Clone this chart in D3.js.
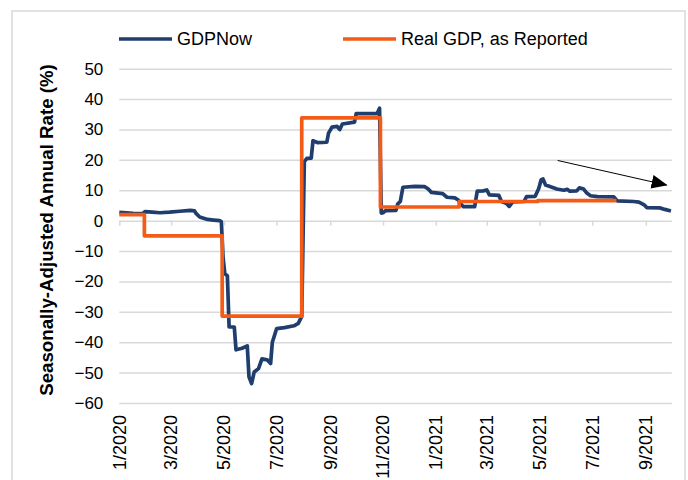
<!doctype html>
<html lang="en">
<head>
  <meta charset="utf-8">
  <style>
    body {
      margin: 0;
      background-color: white;
    }
    svg {
      display: block;
      background-color: white;
      font-family: "Liberation Sans", Arial, sans-serif;
    }
    .frame {
      fill: none;
      stroke: #d9d9d9;
      stroke-width: 1.5px;
    }
    .grid line {
      stroke: #d9d9d9;
      stroke-width: 1.5px;
    }
    .grid text {
      font-size: 17px;
      fill: #000;
    }
    .xlabel {
      font-size: 18px;
      fill: #000;
    }
    .series {
      fill: none;
      stroke-width: 3.7px;
      stroke-linejoin: round;
    }
  </style>
</head>
<body>
<script src="https://d3js.org/d3.v7.min.js"></script>
<script>
var width = 688,
height = 480;

// GDPNow estimates (date, %)
var nowDates = ["2020-01-01","2020-01-17","2020-01-28","2020-01-31","2020-02-08","2020-02-17","2020-02-28",
  "2020-03-11","2020-03-23","2020-03-28","2020-03-30","2020-04-03","2020-04-12","2020-04-19","2020-04-26","2020-04-28",
  "2020-04-30","2020-05-02","2020-05-05","2020-05-07","2020-05-13","2020-05-15","2020-05-22","2020-05-28","2020-05-30",
  "2020-06-02","2020-06-05","2020-06-10","2020-06-14","2020-06-20","2020-06-24","2020-06-26","2020-07-01","2020-07-10",
  "2020-07-21","2020-07-26","2020-07-30","2020-08-02","2020-08-05","2020-08-10","2020-08-12","2020-08-17","2020-08-28",
  "2020-08-30","2020-09-03","2020-09-09","2020-09-12","2020-09-15","2020-09-29","2020-10-01","2020-10-25","2020-10-28",
  "2020-10-30","2020-11-01","2020-11-04","2020-11-16","2020-11-18","2020-11-21","2020-11-24","2020-12-08","2020-12-19",
  "2020-12-23","2020-12-27","2021-01-09","2021-01-14","2021-01-23","2021-01-27","2021-01-30","2021-02-02","2021-02-15",
  "2021-02-18","2021-02-25","2021-03-01","2021-03-04","2021-03-15","2021-03-18","2021-03-24","2021-03-27","2021-03-31",
  "2021-04-13","2021-04-16","2021-04-26","2021-04-30","2021-05-03","2021-05-05","2021-05-08","2021-05-13","2021-05-21",
  "2021-05-29","2021-06-02","2021-06-05","2021-06-13","2021-06-16","2021-06-21","2021-06-25","2021-06-29","2021-07-07",
  "2021-07-26","2021-07-30","2021-08-18","2021-08-24","2021-08-30","2021-09-02","2021-09-17","2021-09-23","2021-09-30"];
var nowValues = [2.7,2.4,2.3,3.0,2.8,2.6,2.8,
  3.1,3.4,3.2,2.3,1.2,0.4,0.2,0.0,-0.3,
  -12,-17.4,-18.2,-35,-35,-42.5,-42,-41.2,-51.4,
  -53.6,-49.8,-48.7,-45.5,-45.8,-47,-40,-35.5,-35.2,
  -34.6,-33.8,-31.5,19.4,20.5,20.6,26.3,25.7,25.8,
  28.8,30.8,31.0,30.0,31.8,32.4,35.2,35.2,37.0,
  2.5,2.6,3.3,3.4,5.5,6.3,11.0,11.3,11.2,
  10.5,9.3,8.9,7.7,7.5,6.8,5.5,4.6,4.6,
  9.7,9.8,10.1,8.5,8.3,6.3,5.6,4.7,6.2,
  6.3,7.9,8.0,10.5,13.5,13.7,11.7,11.2,10.4,
  10.0,10.3,9.7,9.8,10.8,10.4,9.0,8.2,7.9,
  7.8,6.5,6.3,6.1,5.2,4.3,4.2,3.7,3.2];

// Real GDP as reported (step series)
var gdpDates = ["2020-01-01","2020-01-30","2020-04-29","2020-07-30","2020-10-29","2021-01-28","2021-04-29","2021-07-29"];
var gdpValues = [2.0,-5.0,-31.4,33.8,4.5,6.3,6.6,6.6];

var yTicks = [-60,-50,-40,-30,-20,-10,0,10,20,30,40,50];
var xTickDates = ["2020-01-01","2020-03-01","2020-05-01","2020-07-01","2020-09-01","2020-11-01",
  "2021-01-01","2021-03-01","2021-05-01","2021-07-01","2021-09-01"];
var xTickLabels = ["1/2020","3/2020","5/2020","7/2020","9/2020","11/2020","1/2021","3/2021","5/2021","7/2021","9/2021"];

var parse = d3.timeParse("%Y-%m-%d");

var plotLeft = 119.3, plotRight = 671.8, plotTop = 68.7, plotBottom = 403;

var x = d3.scaleTime()
  .domain([parse("2020-01-01"), parse("2021-10-01")])
  .range([plotLeft, plotRight]);

var y = d3.scaleLinear()
  .domain([-60, 50])
  .range([plotBottom, plotTop]);

var svg = d3.select("body").append("svg")
  .attr("width", width)
  .attr("height", height);

svg.append("rect")
  .attr("class", "frame")
  .attr("x", 12)
  .attr("y", 11)
  .attr("width", 673)
  .attr("height", 490);

// gridlines + y labels
var yAxis = d3.axisLeft(y)
  .tickValues(yTicks)
  .tickSize(-(plotRight - plotLeft))
  .tickPadding(16);

svg.append("g")
  .attr("class", "grid")
  .attr("transform", "translate(" + plotLeft + ",0)")
  .call(yAxis)
  .call(function(g) { g.select(".domain").remove(); })
  .selectAll("text")
  .attr("fill", "#000");

// tick marks on the zero line
svg.append("g")
  .attr("class", "grid")
  .attr("transform", "translate(0," + y(0) + ")")
  .call(d3.axisBottom(x).tickValues(xTickDates.map(parse)).tickSize(5).tickFormat(""))
  .call(function(g) { g.select(".domain").remove(); });

// rotated x labels
svg.append("g")
  .selectAll("text")
  .data(xTickDates)
  .enter().append("text")
  .attr("class", "xlabel")
  .attr("transform", function(d) { return "translate(" + x(parse(d)) + ",415) rotate(-90)"; })
  .attr("text-anchor", "end")
  .attr("dy", "0.35em")
  .text(function(d, i) { return xTickLabels[i]; });

// y title
svg.append("text")
  .attr("transform", "translate(46,230) rotate(-90)")
  .attr("text-anchor", "middle")
  .attr("dy", "0.35em")
  .style("font-size", "18.7px")
  .style("font-weight", "bold")
  .text("Seasonally-Adjusted Annual Rate (%)");

var nowData = nowDates.map(function(d, i) { return { date: parse(d), value: nowValues[i] }; });
var gdpData = gdpDates.map(function(d, i) { return { date: parse(d), value: gdpValues[i] }; });

var line = d3.line()
  .x(function(d) { return x(d.date); })
  .y(function(d) { return y(d.value); });

var stepLine = d3.line()
  .curve(d3.curveStepAfter)
  .x(function(d) { return x(d.date); })
  .y(function(d) { return y(d.value); });

svg.append("path")
  .datum(nowData)
  .attr("class", "series")
  .attr("stroke", "#1f3d6d")
  .attr("d", line);

svg.append("path")
  .datum(gdpData)
  .attr("class", "series")
  .attr("stroke", "#f35b17")
  .attr("d", stepLine);

// trend arrow
svg.append("defs").append("marker")
  .attr("id", "arrow")
  .attr("markerUnits", "userSpaceOnUse")
  .attr("viewBox", "0 0 16 14")
  .attr("refX", 15)
  .attr("refY", 7)
  .attr("markerWidth", 16)
  .attr("markerHeight", 14)
  .attr("orient", "auto")
  .append("path")
  .attr("d", "M0,0L16,7L0,14Z")
  .attr("fill", "#000");

svg.append("line")
  .attr("x1", x(parse("2021-05-22")))
  .attr("y1", y(19.8))
  .attr("x2", x(parse("2021-09-25")))
  .attr("y2", y(11.7))
  .attr("stroke", "#000")
  .attr("stroke-width", 1)
  .attr("marker-end", "url(#arrow)");

// legend
var legend = [
  { name: "GDPNow", color: "#1f3d6d", x: 119 },
  { name: "Real GDP, as Reported", color: "#f35b17", x: 343 }
];

var lg = svg.append("g").selectAll("g")
  .data(legend)
  .enter().append("g")
  .attr("transform", function(d) { return "translate(" + d.x + ",39)"; });

lg.append("line")
  .attr("x1", 0)
  .attr("x2", 53)
  .attr("stroke", function(d) { return d.color; })
  .attr("stroke-width", 3.7);

lg.append("text")
  .attr("x", 58)
  .attr("dy", "0.35em")
  .style("font-size", "18px")
  .text(function(d) { return d.name; });
</script>
</body>
</html>
